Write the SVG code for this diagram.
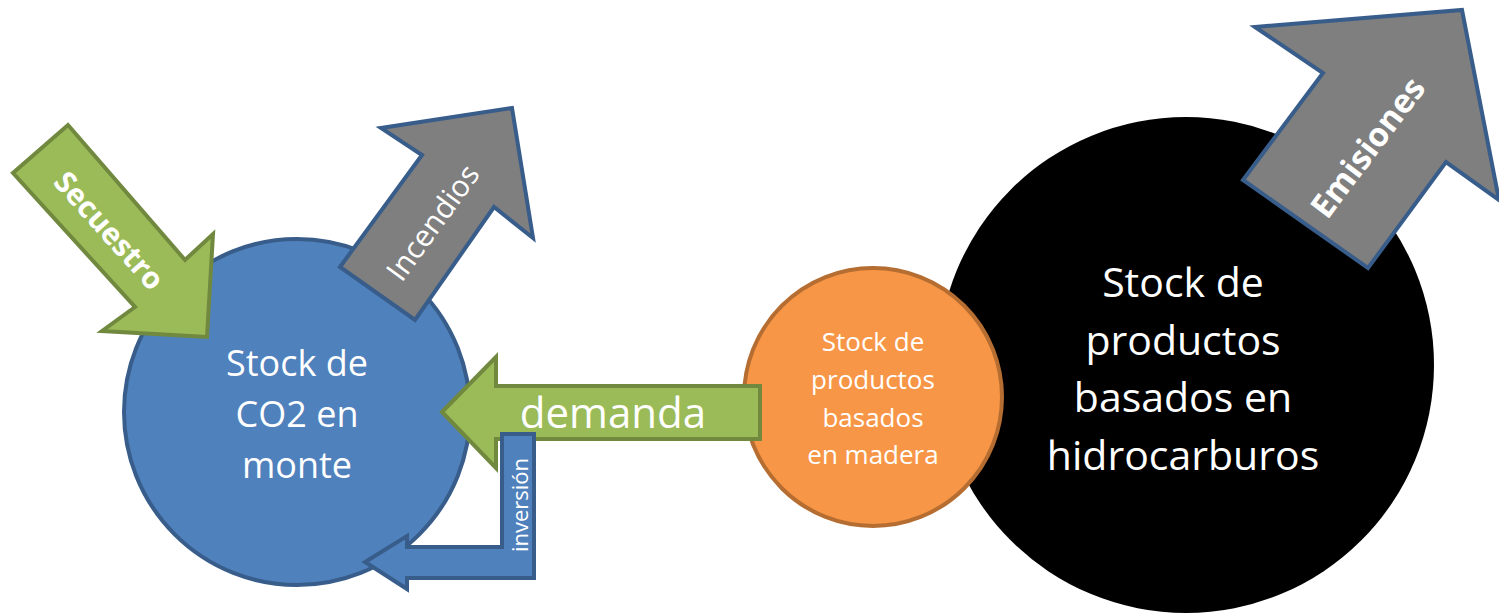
<svg xmlns="http://www.w3.org/2000/svg" width="1499" height="613" viewBox="0 0 1499 613">
<style>
.t{font-family:"Open Sans","Liberation Sans",sans-serif;fill:#FFFFFF;text-anchor:middle}
.b{font-weight:bold}
.green{fill:#9BBB59;stroke:#71893F;stroke-width:4;stroke-linejoin:miter}
.gray{fill:#7F7F7F;stroke:#385D8A;stroke-width:4;stroke-linejoin:miter}
.blue{fill:#4F81BD;stroke:#385D8A;stroke-width:4;stroke-linejoin:miter}
</style>
<rect width="1499" height="613" fill="#FFFFFF"/>
<g id="stock-hidrocarburos">
<circle cx="1186" cy="365" r="248" fill="#000000"/>
<text class="t" font-size="41"><tspan x="1183" y="297">Stock de</tspan><tspan x="1183" y="355">productos</tspan><tspan x="1183" y="412">basados en</tspan><tspan x="1183" y="470">hidrocarburos</tspan></text>
</g>
<g id="stock-madera">
<circle cx="873" cy="397" r="129" fill="#F79646" stroke="#B66D31" stroke-width="4"/>
<text class="t" font-size="26"><tspan x="873" y="351">Stock de</tspan><tspan x="873" y="389">productos</tspan><tspan x="873" y="427">basados</tspan><tspan x="873" y="464">en madera</tspan></text>
</g>
<g id="stock-co2">
<circle cx="297" cy="412" r="173" fill="#4F81BD" stroke="#385D8A" stroke-width="4"/>
<text class="t" font-size="36"><tspan x="297" y="376">Stock de</tspan><tspan x="297" y="427">CO2 en</tspan><tspan x="297" y="478">monte</tspan></text>
</g>
<g id="connectors">
<g id="emisiones">
<polygon class="gray" points="1243,180 1323,73 1255,27 1462,10 1499,200 1446,162 1368,268"/>
<text class="t b" font-size="33" transform="translate(1367,147) rotate(-53)" dominant-baseline="central">Emisiones</text>
</g>
<g id="secuestro">
<polygon class="green" points="68,125 185,260 213,234 207,337 102,331 135,307 13,173"/>
<text class="t b" font-size="30" transform="translate(110,230) rotate(48)" dominant-baseline="central">Secuestro</text>
</g>
<g id="incendios">
<polygon class="gray" points="340,267 422,155 381,128 512,108 533,238 494,207 415,320"/>
<text class="t" font-size="30" transform="translate(432,222) rotate(-54)" dominant-baseline="central">Incendios</text>
</g>
<g id="demanda">
<polygon class="green" points="442,412 496,357 496,386 760,386 760,439 496,439 496,468"/>
<text class="t" font-size="42" x="613" y="428">demanda</text>
</g>
<g id="inversion">
<polygon class="blue" points="502,434 534,434 534,578 407,578 407,589 365,562 407,536 407,547 502,547"/>
<text class="t" font-size="22" transform="translate(519,505) rotate(-90)" dominant-baseline="central">inversión</text>
</g>
</g>
</svg>
